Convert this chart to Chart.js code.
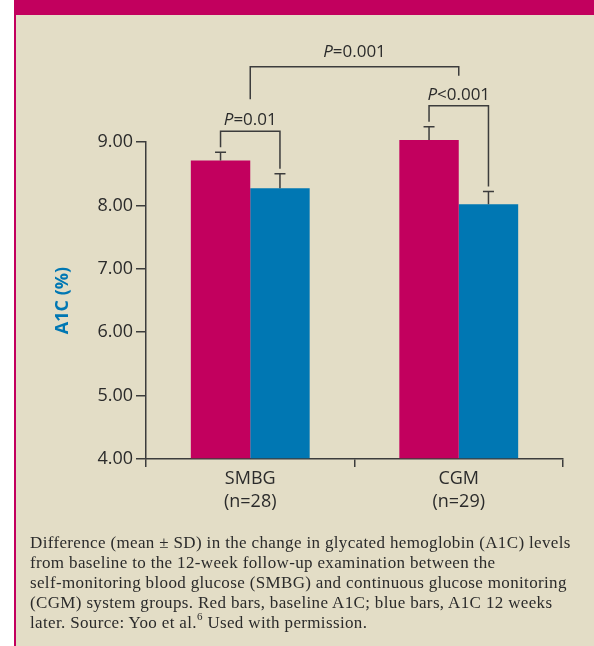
<!DOCTYPE html>
<html>
<head>
<meta charset="utf-8">
<script src="https://cdn.jsdelivr.net/npm/chart.js@4"></script>
<style>
  body { margin: 0; background: #fff; }
  #wrap { position: relative; width: 594px; height: 646px; background: #fff; overflow: hidden; }
  #topbar { position: absolute; left: 14px; top: 0; width: 580px; height: 15px; background: #c2005e; }
  #panel { position: absolute; left: 14px; top: 15px; width: 580px; height: 631px; background: #e3ddc6;
           border-left: 2px solid #c2005e; box-sizing: border-box; }
  #chart { position: absolute; left: 0; top: 0; }
  #caption { position: absolute; left: 30px; top: 533px; font-family: "Liberation Serif", serif;
             font-size: 17px; letter-spacing: 0.35px; line-height: 20px; color: #2b2b2b; white-space: nowrap; }
  #caption sup { font-size: 11px; line-height: 0; position: relative; top: -1px; }
</style>
</head>
<body>
<div id="wrap">
  <div id="topbar"></div>
  <div id="panel"></div>
  <canvas id="chart" width="594" height="646"></canvas>
  <div id="caption">
    Difference (mean ± SD) in the change in glycated hemoglobin (A1C) levels<br>
    from baseline to the 12-week follow-up examination between the<br>
    self-monitoring blood glucose (SMBG) and continuous glucose monitoring<br>
    (CGM) system groups. Red bars, baseline A1C; blue bars, A1C 12 weeks<br>
    later. Source: Yoo et al.<sup>6</sup> Used with permission.
  </div>
</div>
<script>
const groups = [['SMBG', '(n=28)'], ['CGM', '(n=29)']];
const baselineA1c = [8.71, 9.03];
const baselineSd = [0.13, 0.21];
const week12A1c = [8.27, 8.02];
const week12Sd = [0.23, 0.20];
const yTicks = [4, 5, 6, 7, 8, 9];
const withinP = ['P=0.01', 'P<0.001'];
const betweenP = 'P=0.001';

const RED = '#c2005e';
const BLUE = '#0077b3';
const INK = '#2b2b2b';
const LINE = '#3c3c3c';
const FONT = '"Open Sans", "Noto Sans", sans-serif';

// text with italic leading P
function drawPLabel(ctx, text, cx, cy) {
    ctx.save();
    ctx.fillStyle = INK;
    ctx.textBaseline = 'middle';
    ctx.textAlign = 'left';
    ctx.font = 'italic 17px ' + FONT;
    const wP = ctx.measureText('P').width;
    ctx.font = '17px ' + FONT;
    const wRest = ctx.measureText(text.slice(1)).width;
    const x0 = cx - (wP + wRest) / 2;
    ctx.font = 'italic 17px ' + FONT;
    ctx.fillText('P', x0, cy);
    ctx.font = '17px ' + FONT;
    ctx.fillText(text.slice(1), x0 + wP, cy);
    ctx.restore();
}

const annotations = {
    id: 'annotations',
    afterDatasetsDraw(chart) {
        const ctx = chart.ctx;
        const y = chart.scales.y;
        const m0 = chart.getDatasetMeta(0);
        const m1 = chart.getDatasetMeta(1);
        ctx.save();
        ctx.strokeStyle = LINE;
        ctx.lineWidth = 1.5;

        // error bars (upper only)
        const sds = [baselineSd, week12Sd];
        const means = [baselineA1c, week12A1c];
        const caps = [[], []];
        [m0, m1].forEach((meta, d) => {
            meta.data.forEach((bar, i) => {
                const top = y.getPixelForValue(means[d][i]);
                const cap = y.getPixelForValue(means[d][i] + sds[d][i]);
                caps[d][i] = cap;
                ctx.beginPath();
                ctx.moveTo(bar.x, top);
                ctx.lineTo(bar.x, cap);
                ctx.moveTo(bar.x - 5.5, cap);
                ctx.lineTo(bar.x + 5.5, cap);
                ctx.stroke();
            });
        });

        // within-group brackets
        const mids = [];
        const labelTops = [];
        groups.forEach((g, i) => {
            const xa = m0.data[i].x, xb = m1.data[i].x;
            const ca = caps[0][i], cb = caps[1][i];
            const by = Math.min(ca, cb) - 21;
            ctx.beginPath();
            ctx.moveTo(xa, ca - 5);
            ctx.lineTo(xa, by);
            ctx.lineTo(xb, by);
            ctx.lineTo(xb, cb - 5);
            ctx.stroke();
            const ly = by - 11;
            drawPLabel(ctx, withinP[i], (xa + xb) / 2, ly);
            mids.push((xa + xb) / 2);
            labelTops.push(ly - 7);
        });

        // between-group bracket
        const topY = Math.min(...labelTops) - 21;
        ctx.beginPath();
        ctx.moveTo(mids[0], labelTops[0] - 14);
        ctx.lineTo(mids[0], topY);
        ctx.lineTo(mids[1], topY);
        ctx.lineTo(mids[1], labelTops[1] - 12);
        ctx.stroke();
        drawPLabel(ctx, betweenP, (mids[0] + mids[1]) / 2, topY - 15);
        ctx.restore();
    }
};

new Chart(document.getElementById('chart'), {
    type: 'bar',
    data: {
        labels: groups,
        datasets: [{
            label: 'Baseline A1C',
            data: baselineA1c,
            backgroundColor: RED,
            base: yTicks[0],
            categoryPercentage: 0.57,
            barPercentage: 1.0,
            clip: false
        }, {
            label: 'A1C 12 weeks later',
            data: week12A1c,
            backgroundColor: BLUE,
            base: yTicks[0],
            categoryPercentage: 0.57,
            barPercentage: 1.0,
            clip: false
        }]
    },
    options: {
        responsive: false,
        animation: false,
        layout: { padding: { left: 0, top: 142, right: 31, bottom: 127 } },
        plugins: {
            legend: { display: false },
            tooltip: { enabled: false }
        },
        scales: {
            x: {
                afterFit: s => { s.height = 60; },
                grid: { drawOnChartArea: false, drawTicks: true, tickLength: 8, color: LINE, lineWidth: 1.5 },
                border: { display: true, color: LINE, width: 1.5 },
                ticks: { color: INK, padding: 0, font: { family: FONT, size: 18, lineHeight: 1.28 } }
            },
            y: {
                min: 4,
                max: 9,
                afterFit: s => { s.width = 146; },
                afterBuildTicks: s => { s.ticks = yTicks.map(v => ({ value: v })); },
                grid: { drawOnChartArea: false, drawTicks: true, tickLength: 10, color: LINE, lineWidth: 1.5 },
                border: { display: true, color: LINE, width: 1.5 },
                ticks: {
                    color: INK,
                    padding: 3,
                    font: { family: FONT, size: 18 },
                    callback: v => Number(v).toFixed(2)
                },
                title: {
                    display: true,
                    text: 'A1C (%)',
                    color: BLUE,
                    padding: { top: 52 },
                    font: { family: FONT, size: 18, weight: 'bold' }
                }
            }
        }
    },
    plugins: [annotations]
});
</script>
</body>
</html>
